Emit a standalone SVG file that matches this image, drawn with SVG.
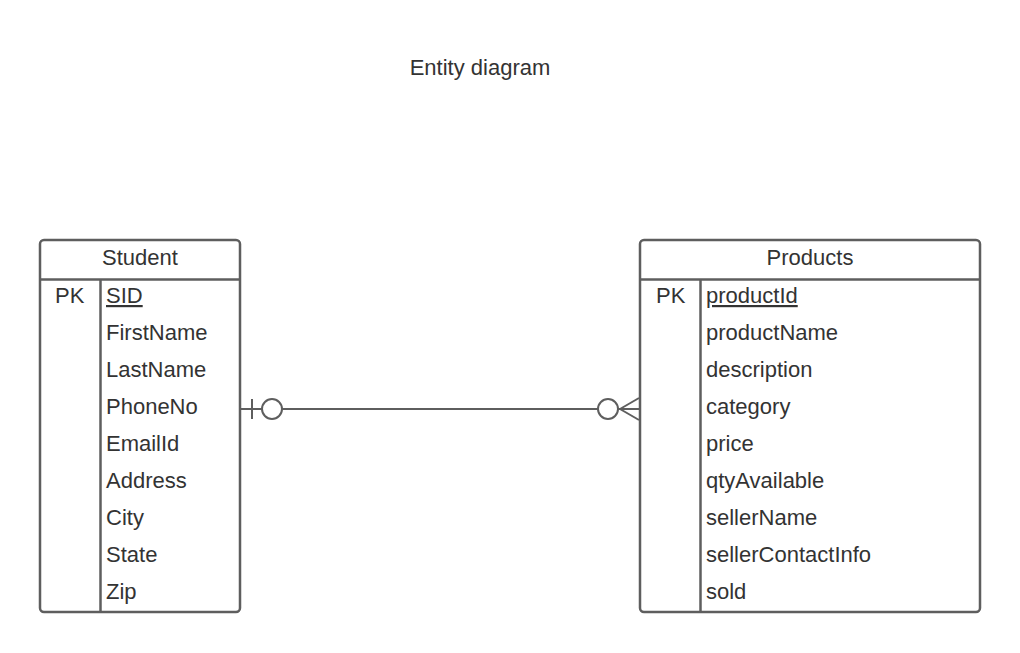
<svg xmlns="http://www.w3.org/2000/svg" width="1020" height="653" viewBox="0 0 1020 653">
<style>
text{font-family:"Liberation Sans",Arial,sans-serif;font-size:22px;fill:#333333}
.box{fill:#ffffff;stroke:#5e5e5e;stroke-width:2.5}
.ln{stroke:#5e5e5e;stroke-width:2.5;fill:none}
.c{stroke:#5e5e5e;stroke-width:2;fill:none}
.mid{text-anchor:middle}
.u{text-decoration:underline}
</style>
<rect width="1020" height="653" fill="#ffffff"/>
<text id="title" x="480" y="75" class="mid">Entity diagram</text>
<g id="student">
<rect class="box" x="40" y="240" width="200" height="372" rx="4"/>
<line class="ln" x1="40" y1="279.5" x2="240" y2="279.5"/>
<line class="ln" x1="100.5" y1="279.5" x2="100.5" y2="612"/>
<text x="140" y="265" class="mid">Student</text>
<text x="55" y="303">PK</text>
<text x="106" y="303" class="u">SID</text>
<text x="106" y="340">FirstName</text>
<text x="106" y="377">LastName</text>
<text x="106" y="414">PhoneNo</text>
<text x="106" y="451">EmailId</text>
<text x="106" y="488">Address</text>
<text x="106" y="525">City</text>
<text x="106" y="562">State</text>
<text x="106" y="599">Zip</text>
</g>
<g id="products">
<rect class="box" x="640" y="240" width="340" height="372" rx="4"/>
<line class="ln" x1="640" y1="279.5" x2="980" y2="279.5"/>
<line class="ln" x1="700.5" y1="279.5" x2="700.5" y2="612"/>
<text x="810" y="265" class="mid">Products</text>
<text x="656" y="303">PK</text>
<text x="706" y="303" class="u">productId</text>
<text x="706" y="340">productName</text>
<text x="706" y="377">description</text>
<text x="706" y="414">category</text>
<text x="706" y="451">price</text>
<text x="706" y="488">qtyAvailable</text>
<text x="706" y="525">sellerName</text>
<text x="706" y="562">sellerContactInfo</text>
<text x="706" y="599">sold</text>
</g>
<g id="connectors">
<line class="c" x1="241" y1="409" x2="262" y2="409"/>
<line class="c" x1="252" y1="399" x2="252" y2="419"/>
<circle class="c" cx="272" cy="409" r="10"/>
<line class="c" x1="282" y1="409" x2="598" y2="409"/>
<circle class="c" cx="608" cy="409" r="10"/>
<line class="c" x1="618" y1="409" x2="639" y2="409"/>
<line class="c" x1="620" y1="409" x2="639" y2="398"/>
<line class="c" x1="620" y1="409" x2="639" y2="420"/>
</g>
</svg>
